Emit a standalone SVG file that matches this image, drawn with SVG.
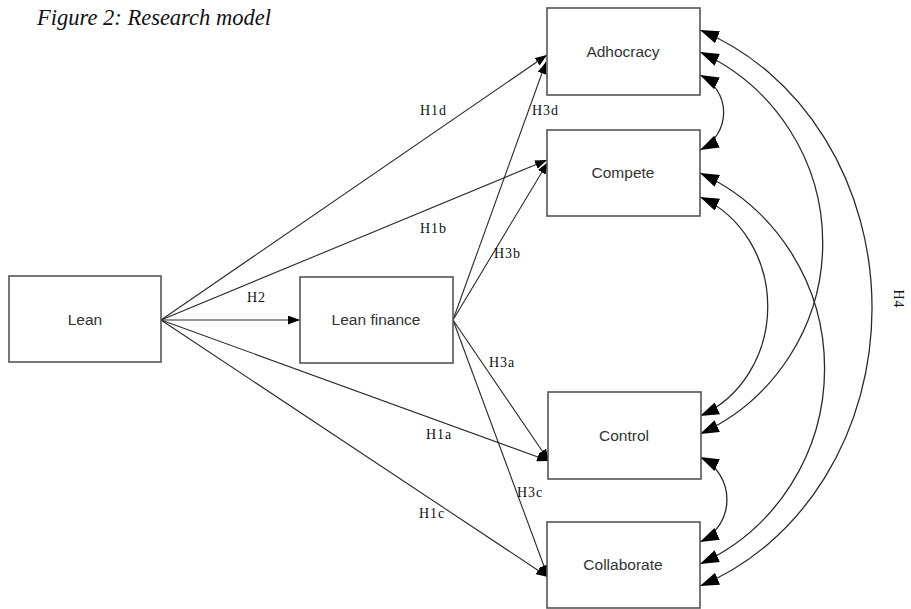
<svg xmlns="http://www.w3.org/2000/svg" width="911" height="609" viewBox="0 0 911 609">
<defs>
<style>
.box{fill:#fff;stroke:#555;stroke-width:1.6}
.lbl{font-family:"Liberation Sans",Arial,sans-serif;font-size:15.5px;fill:#333;text-anchor:middle}
.edge{fill:none;stroke:#2a2a2a;stroke-width:1.1}
.arc{fill:none;stroke:#2a2a2a;stroke-width:1.3}
.elbl{font-family:"Liberation Serif","Times New Roman",serif;font-size:14px;fill:#111;letter-spacing:1px}
.title{font-family:"Liberation Serif","Times New Roman",serif;font-size:22.5px;font-style:italic;fill:#111}
</style>
<marker id="arr" markerUnits="userSpaceOnUse" markerWidth="13" markerHeight="9" refX="12" refY="4.5" orient="auto">
<path d="M0,0 L12,4.5 L0,9 z" fill="#000"/>
</marker>
<marker id="big" markerUnits="userSpaceOnUse" markerWidth="20" markerHeight="13" refX="19" refY="6.5" orient="auto-start-reverse">
<path d="M0,0 L19,6.5 L0,13 z" fill="#000"/>
</marker>
</defs>
<rect width="911" height="609" fill="#fff"/>
<text class="title" x="37" y="25">Figure 2: Research model</text>

<g id="connectors">
<line class="edge" x1="161" y1="320" x2="547" y2="55" marker-end="url(#arr)"/>
<line class="edge" x1="453" y1="320" x2="546" y2="62" marker-end="url(#arr)"/>
<line class="edge" x1="161" y1="320" x2="547" y2="160" marker-end="url(#arr)"/>
<line class="edge" x1="453" y1="320" x2="548" y2="162" marker-end="url(#arr)"/>
<line class="edge" x1="161" y1="320" x2="300" y2="320" marker-end="url(#arr)"/>
<line class="edge" x1="161" y1="320" x2="549" y2="461" marker-end="url(#arr)"/>
<line class="edge" x1="453" y1="320" x2="549" y2="461" marker-end="url(#arr)"/>
<line class="edge" x1="161" y1="320" x2="548" y2="577" marker-end="url(#arr)"/>
<line class="edge" x1="453" y1="320" x2="548" y2="577" marker-end="url(#arr)"/>
<path class="arc" d="M700,75 A43,42 0 0,1 700,150" marker-start="url(#big)" marker-end="url(#big)"/>
<path class="arc" d="M700,457 A47,47 0 0,1 700,542" marker-start="url(#big)" marker-end="url(#big)"/>
<path class="arc" d="M700,197 A108,118 0 0,1 700,416" marker-start="url(#big)" marker-end="url(#big)"/>
<path class="arc" d="M700,52 A210,210 0 0,1 700,434" marker-start="url(#big)" marker-end="url(#big)"/>
<path class="arc" d="M700,173 A210,214 0 0,1 700,564" marker-start="url(#big)" marker-end="url(#big)"/>
<path class="arc" d="M700,30 A262,296 0 0,1 700,586" marker-start="url(#big)" marker-end="url(#big)"/>
<text class="elbl" x="420" y="115">H1d</text>
<text class="elbl" x="532" y="115">H3d</text>
<text class="elbl" x="420" y="233">H1b</text>
<text class="elbl" x="494" y="258">H3b</text>
<text class="elbl" x="247" y="302">H2</text>
<text class="elbl" x="489" y="367">H3a</text>
<text class="elbl" x="426" y="439">H1a</text>
<text class="elbl" x="517" y="497">H3c</text>
<text class="elbl" x="419" y="518">H1c</text>
<text class="elbl" x="894" y="299" text-anchor="middle" transform="rotate(90 894 299)">H4</text>
</g>

<g id="lean"><rect class="box" x="9" y="276" width="152" height="86"/><text class="lbl" x="85" y="325">Lean</text></g>
<g id="lean-finance"><rect class="box" x="300" y="277" width="153" height="86"/><text class="lbl" x="376" y="325">Lean finance</text></g>
<g id="adhocracy"><rect class="box" x="547" y="8" width="153" height="87"/><text class="lbl" x="623" y="57">Adhocracy</text></g>
<g id="compete"><rect class="box" x="547" y="130" width="153" height="86"/><text class="lbl" x="623" y="178">Compete</text></g>
<g id="control"><rect class="box" x="548" y="392" width="153" height="87"/><text class="lbl" x="624" y="441">Control</text></g>
<g id="collaborate"><rect class="box" x="547" y="522" width="153" height="86"/><text class="lbl" x="623" y="570">Collaborate</text></g>
</svg>
